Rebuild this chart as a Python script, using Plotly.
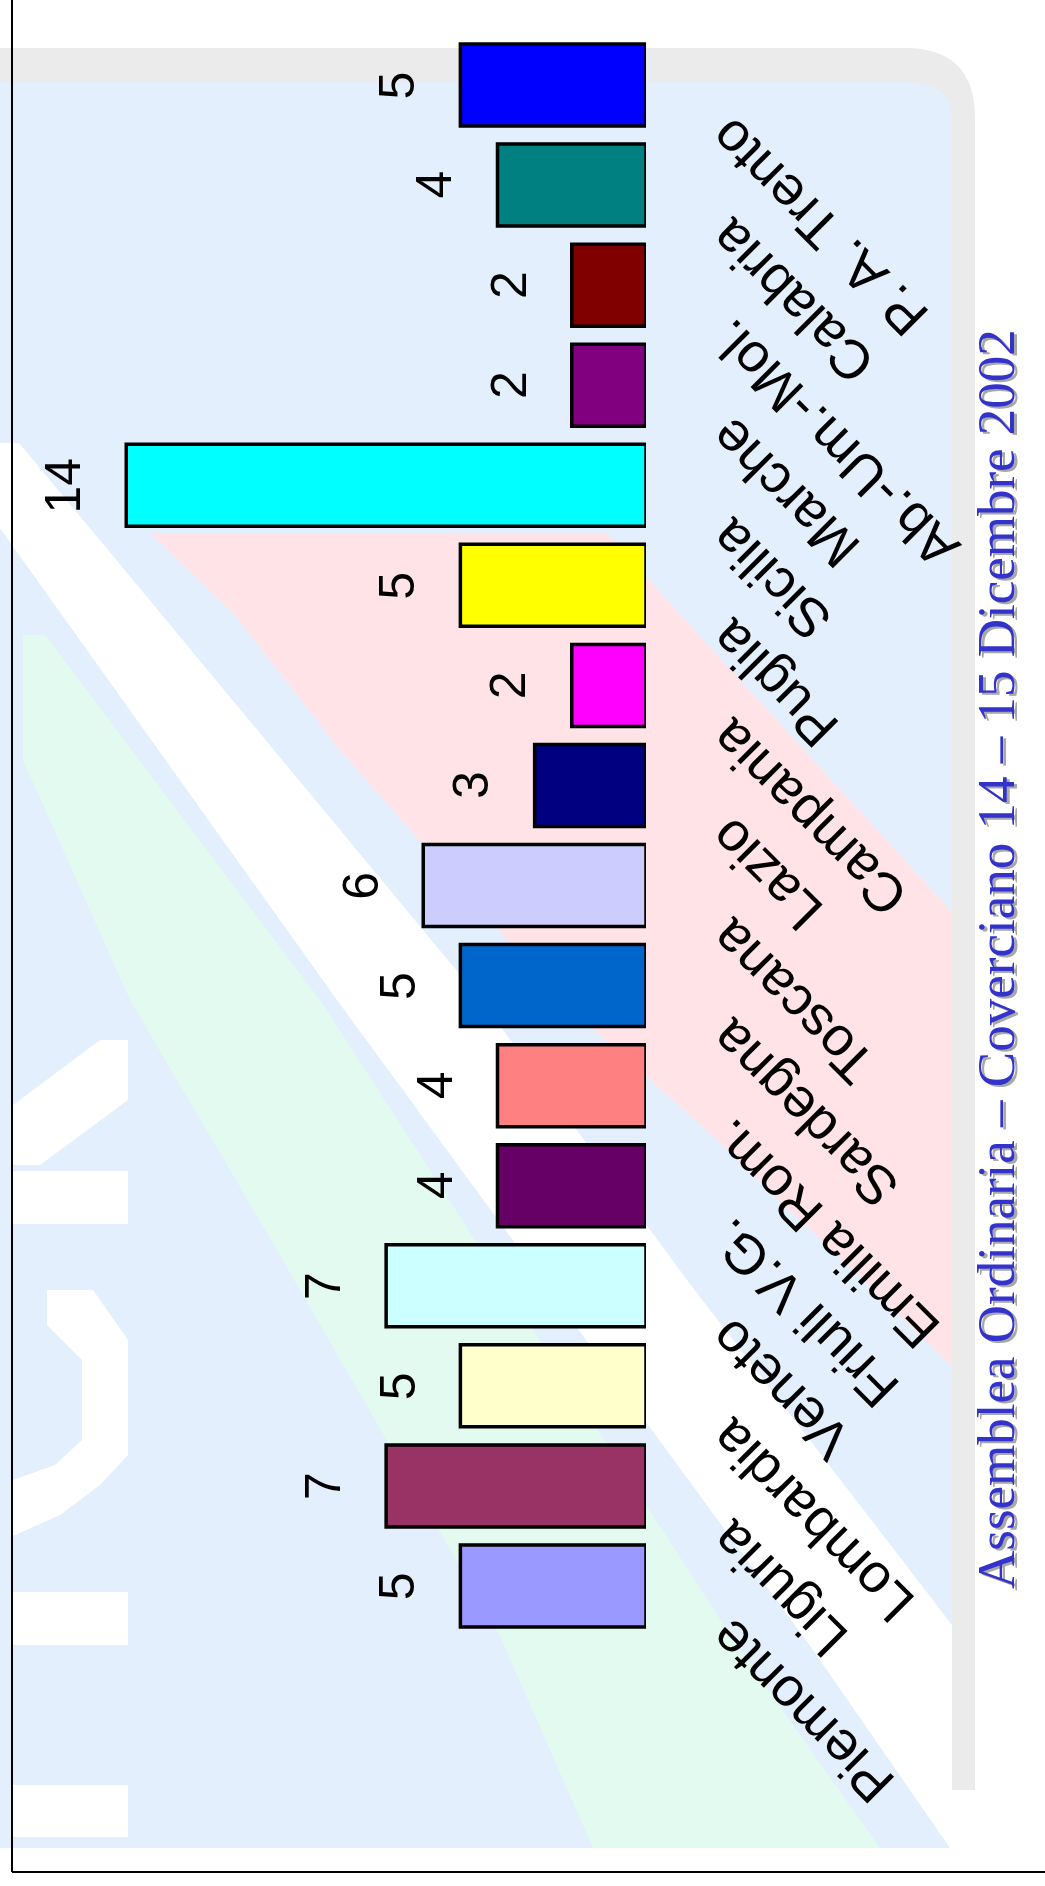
import plotly.graph_objects as go

# ---- data ----
regions = ["Piemonte", "Liguria", "Lombardia", "Veneto", "Friuli V.G.", "Emilia Rom.",
           "Sardegna", "Toscana", "Lazio", "Campania", "Puglia", "Sicilia", "Marche",
           "Ab.-Um.-Mol.", "Calabria", "P. A. Trento"]
values = [5, 7, 5, 7, 4, 4, 5, 6, 3, 2, 5, 14, 2, 2, 4, 5]
bar_colors = ["#9999FF", "#993366", "#FFFFCC", "#CCFFFF", "#660066", "#FF8080",
              "#0066CC", "#CCCCFF", "#000080", "#FF00FF", "#FFFF00", "#00FFFF",
              "#800080", "#800000", "#008080", "#0000FF"]
title_text = "Assemblea Ordinaria \u2013 Coverciano 14 \u2013 15 Dicembre 2002"

# ---- layout geometry (pixels) ----
FW, FH = 1045, 1886
L, W, T, H = 52, 594, 35, 1601
R = FW - L - W
B = FH - T - H


def px(x):
    return (x - L) / W


def py(y):
    return 1 - (y - T) / H


def poly(points, color):
    d = "M " + " L ".join(f"{px(x):.5f},{py(y):.5f}" for x, y in points) + " Z"
    return dict(type="path", path=d, xref="paper", yref="paper", fillcolor=color,
                line=dict(width=0), layer="below")


def rect(x0, y0, x1, y1, color):
    return dict(type="rect", xref="paper", yref="paper", x0=px(x0), x1=px(x1),
                y0=py(y1), y1=py(y0), fillcolor=color, line=dict(width=0), layer="below")


BLUE = "#E3EFFD"
PINK = "#FFE3E6"
GREEN = "#E2FAEF"
GREY = "#EBEBEB"

shapes = [
    rect(0, 82, 952, 1848, BLUE),
    poly([(23, 635), (45, 635), (320, 1000), (740, 1650), (880, 1848), (593, 1848),
          (500, 1636), (267, 1233), (130, 1000), (23, 760)], GREEN),
    poly([(-61, 443), (19, 443), (133, 580), (481, 1000), (690, 1284), (952, 1625),
          (952, 1848), (950, 1848), (813, 1650), (337, 1000)], "#FFFFFF"),
    poly([(150, 533), (607, 533), (667, 600), (952, 912), (952, 1366), (700, 1124),
          (560, 1000), (340, 750), (233, 613)], PINK),
    # faded logo pieces
    poly([(100, 1040), (128, 1040), (128, 1100), (40, 1165), (13, 1165), (13, 1105)], "#FFFFFF"),
    rect(13, 1171, 128, 1224, "#FFFFFF"),
    poly([(47, 1290), (93, 1290), (128, 1340), (128, 1455), (100, 1485), (60, 1515),
          (13, 1536), (13, 1480), (55, 1465), (82, 1440), (82, 1360), (47, 1325)], "#FFFFFF"),
    rect(13, 1592, 128, 1645, "#FFFFFF"),
    rect(13, 1785, 128, 1837, "#FFFFFF"),
    # grey slide frame
    dict(type="path", xref="paper", yref="paper", fillcolor=GREY, line=dict(width=0),
         layer="below",
         path=(f"M {px(0)},{py(48)} L {px(905)},{py(48)} "
               f"Q {px(975)},{py(48)} {px(975)},{py(118)} L {px(975)},{py(1790)} "
               f"L {px(952)},{py(1790)} L {px(952)},{py(118)} "
               f"Q {px(952)},{py(82)} {px(905)},{py(82)} L {px(0)},{py(82)} Z")),
    # outer black frame lines
    dict(type="line", xref="paper", yref="paper", x0=px(12), x1=px(12), y0=py(0), y1=py(1872),
         line=dict(color="black", width=2), layer="above"),
    dict(type="line", xref="paper", yref="paper", x0=px(12), x1=px(1045), y0=py(1872), y1=py(1872),
         line=dict(color="black", width=2), layer="above"),
]

fig = go.Figure()
fig.add_trace(go.Bar(
    y=regions, x=values, orientation="h",
    marker=dict(color=bar_colors, line=dict(color="black", width=3.5)),
    hoverinfo="skip",
))

annotations = []
for r, v in zip(regions, values):
    annotations.append(dict(
        x=v, y=r, xref="x", yref="y", text=str(v), showarrow=False,
        textangle=-90, xshift=-63, xanchor="center", yanchor="middle",
        font=dict(family="Liberation Sans, Arial", size=50, color="black")))
    annotations.append(dict(
        x=px(695), y=r, xref="paper", yref="y", text=r, showarrow=False,
        textangle=-135, xanchor="left", yanchor="top", yshift=-19,
        font=dict(family="Liberation Sans, Arial", size=55, color="black")))

# title with shadow
annotations.append(dict(
    x=px(996), y=py(959), xref="paper", yref="paper", text=title_text, showarrow=False,
    textangle=-90, xanchor="center", yanchor="middle", xshift=3, yshift=-2,
    font=dict(family="Liberation Serif, Times New Roman", size=53, color="#A8A8A8")))
annotations.append(dict(
    x=px(996), y=py(959), xref="paper", yref="paper", text=title_text, showarrow=False,
    textangle=-90, xanchor="center", yanchor="middle",
    font=dict(family="Liberation Serif, Times New Roman", size=53, color="#3333CC")))

fig.update_layout(
    width=FW, height=FH,
    margin=dict(l=L, r=R, t=T, b=B, pad=0),
    paper_bgcolor="white", plot_bgcolor="rgba(0,0,0,0)",
    showlegend=False, bargap=0.18,
    xaxis=dict(range=[16, 0], visible=False, showgrid=False, zeroline=False),
    yaxis=dict(range=[-0.5, len(regions) - 0.5], visible=False, showgrid=False,
               categoryorder="array", categoryarray=regions),
    shapes=shapes, annotations=annotations,
)

fig.write_html("out.html", config={"displayModeBar": False},
               post_script="document.body.style.margin='0';")
